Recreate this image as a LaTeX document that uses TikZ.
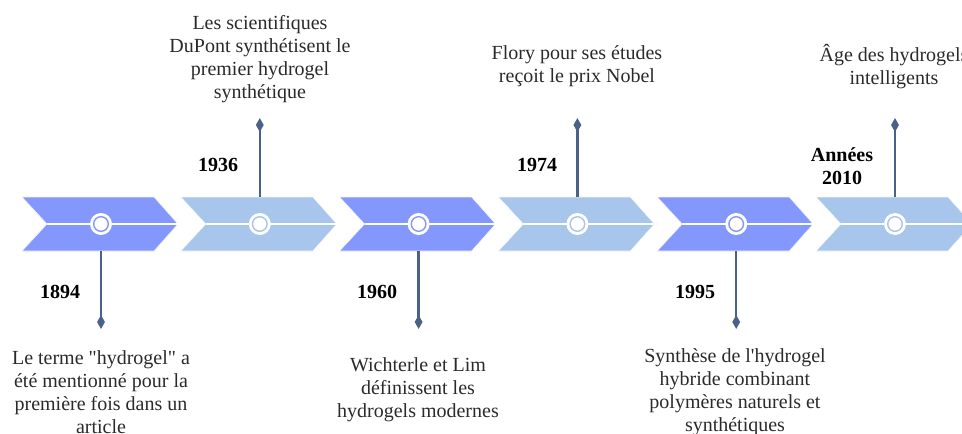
\documentclass[tikz,border=0pt]{standalone}
\usepackage{fontspec}
\setmainfont{Liberation Serif}[Ligatures=TeXOff]
\usetikzlibrary{shapes.geometric}
\definecolor{chevdark}{HTML}{8497FD}
\definecolor{chevlight}{HTML}{A8C5EC}
\definecolor{stemcol}{HTML}{4A6288}
\definecolor{txtcol}{HTML}{2A2A2A}
\tikzset{
  chevpath/.style={draw=white!85!#1, line width=0.6pt, fill=#1},
  midline/.style={draw=white, line width=2pt},
  ringouter/.style={fill=white, draw=none},
  ringinner/.style={draw=#1, line width=1.4pt, fill=white},
  stemline/.style={draw=stemcol, line width=2.4pt},
  tipmark/.style={shape=diamond, fill=stemcol, draw=none, minimum width=8pt, minimum height=14pt, inner sep=0pt},
  yearlab/.style={font=\fontsize{20}{23}\selectfont\bfseries, text=black, align=center, inner sep=0pt},
  desclab/.style={font=\fontsize{20}{23}\selectfont, text=txtcol, align=center, inner sep=0pt}
}
\newcommand{\chevronat}[3]{% #1 = left x, #2 = colour, #3 = name
  \path[chevpath=#2] (#1,197) -- ++(132,0) -- ++(24,27) -- ++(-24,27) -- ++(-132,0) -- ++(25,-27) -- cycle;
  \coordinate (#3n) at (#1+25,224);
  \coordinate (#3p) at (#1+156,224);
  \coordinate (#3c) at (#1+79,224);
  \coordinate (#3t) at (#1+79,197);
  \coordinate (#3b) at (#1+79,251);
  \draw[midline] (#3n) -- (#3p);
  \fill[ringouter] (#3c) circle (11);
  \draw[ringinner=#2] (#3c) circle (7.3);
}
\begin{document}
\begin{tikzpicture}[x=1pt,y=-1pt]
\useasboundingbox (0,0) rectangle (962,434);
\clip (0,0) rectangle (962,434);
\chevronat{22}{chevdark}{k1}
\chevronat{180.8}{chevlight}{k2}
\chevronat{339.6}{chevdark}{k3}
\chevronat{498.4}{chevlight}{k4}
\chevronat{657.2}{chevdark}{k5}
\chevronat{816}{chevlight}{k6}

% diamonds
\node[tipmark] (d1) at (101,322) {};
\node[tipmark] (d2) at (259.8,125) {};
\node[tipmark] (d3) at (418.6,322) {};
\node[tipmark] (d4) at (577.4,125) {};
\node[tipmark] (d5) at (736.2,322) {};
\node[tipmark] (d6) at (895,125) {};

% stems
\draw[stemline] (k1b) -- (d1.center);
\draw[stemline] (k2t) -- (d2.center);
\draw[stemline] (k3b) -- (d3.center);
\draw[stemline] (k4t) -- (d4.center);
\draw[stemline] (k5b) -- (d5.center);
\draw[stemline] (k6t) -- (d6.center);

% years
\node[yearlab] (y1) at (60,292) {1894};
\node[yearlab] (y2) at (218,165) {1936};
\node[yearlab] (y3) at (377,292) {1960};
\node[yearlab] (y4) at (537,165) {1974};
\node[yearlab] (y5) at (695,292) {1995};
\node[yearlab] (y6) at (842,166.5) {Années\\2010};

% descriptions
\node[desclab] (t1) at (101,392) {Le terme "hydrogel" a\\été mentionné pour la\\première fois dans un\\article};
\node[desclab] (t2) at (260,59) {Les scientifiques\\DuPont synthétisent le\\premier hydrogel\\synthétique};
\node[desclab] (t3) at (418,390) {Wichterle et Lim\\définissent les\\hydrogels modernes};
\node[desclab] (t4) at (577,66.5) {Flory pour ses études\\reçoit le prix Nobel};
\node[desclab] (t5) at (735,392) {Synthèse de l'hydrogel\\hybride combinant\\polymères naturels et\\synthétiques};
\node[desclab] (t6) at (894,66.5) {Âge des hydrogels\\intelligents};
\end{tikzpicture}
\end{document}
